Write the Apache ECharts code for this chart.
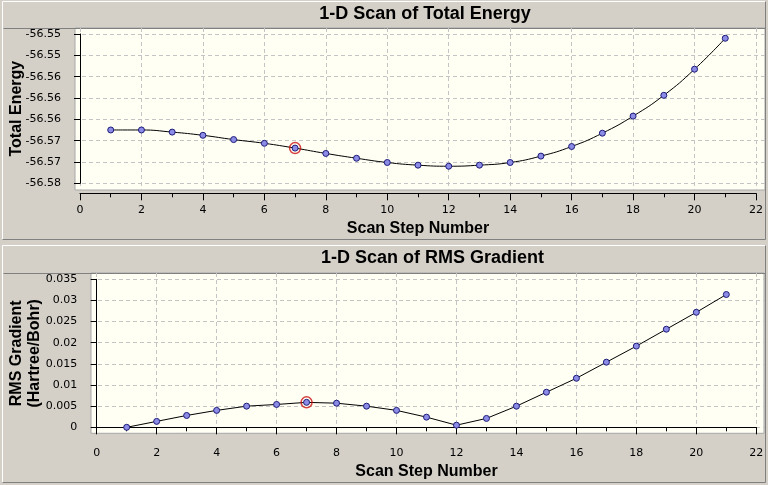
<!DOCTYPE html>
<html><head><meta charset="utf-8">
<script src="https://cdn.jsdelivr.net/npm/echarts@6/dist/echarts.min.js"></script>
<style>html,body{margin:0;padding:0;background:#d4d0c8}#c{width:768px;height:485px}</style>
</head><body><div id="c"></div><script>
// ---- data ----
const steps = [1,2,3,4,5,6,7,8,9,10,11,12,13,14,15,16,17,18,19,20,21];
const energy = [-56.5660,-56.5660,-56.5664,-56.5670,-56.5678,-56.5685,-56.5694,-56.5704,-56.5713,-56.5721,-56.5726,-56.5728,-56.5726,-56.5721,-56.5709,-56.5691,-56.5666,-56.5634,-56.5595,-56.5546,-56.5488];
const rmsGradient = [0.0000,0.0014,0.0028,0.0040,0.0050,0.0054,0.0059,0.0057,0.0050,0.0040,0.0024,0.0005,0.0021,0.0050,0.0083,0.0116,0.0154,0.0192,0.0232,0.0272,0.0314];
const xTicks = [0,2,4,6,8,10,12,14,16,18,20,22];
const energyTicks = [-56.576,-56.572,-56.568,-56.564,-56.560,-56.556,-56.552,-56.548];
const gradientTicks = [0,0.005,0.01,0.015,0.02,0.025,0.03,0.035];
const highlightStep = 7;
const titles = ['1-D Scan of Total Energy','1-D Scan of RMS Gradient'];
const xName = 'Scan Step Number';
const yNames = ['Total Energy','RMS Gradient\n(Hartree/Bohr)'];

// ---- layout ----
const panels = [
  {box:{l:75,t:28,r:765,b:190}, data:{l:80,t:34,r:756,b:183.3}, yOff:8, xOff:10, yGap:47, xGap:27, lh:16, titleTop:0,
   ticks:energyTicks, interval:0.004, values:energy, smooth:true, fmt:v=>v.toFixed(2), yMargin:11},
  {box:{l:91,t:273,r:764,b:433.3}, data:{l:96.7,t:279.3,r:756.3,b:427.3}, yOff:9, xOff:9.4, yGap:44, xGap:27, lh:18, titleTop:244,
   ticks:gradientTicks, interval:0.005, values:rmsGradient, smooth:false, fmt:v=>String(+v.toFixed(3)), yMargin:10.5}
];
const font = 'DejaVu Sans';
const boldFont = 'Liberation Sans';

const grid = [], xAxis = [], yAxis = [], series = [], title = [];
panels.forEach((p, i) => {
  const xMin = xTicks[0], xMax = xTicks[xTicks.length-1];
  const yMin = p.ticks[0], yMax = p.ticks[p.ticks.length-1];
  const sx = (p.data.r - p.data.l) / (xMax - xMin);
  const sy = (p.data.b - p.data.t) / (yMax - yMin);
  const gBox = grid.length;
  grid.push({left:p.box.l, top:p.box.t, width:p.box.r-p.box.l, height:p.box.b-p.box.t,
    show:true, backgroundColor:'#fffff4', borderColor:'#a8a8a8', borderWidth:1, containLabel:false, outerBoundsMode:'none'});
  const gData = grid.length;
  grid.push({left:p.data.l, top:p.data.t, width:p.data.r-p.data.l, height:p.data.b-p.data.t, containLabel:false, outerBoundsMode:'none'});
  const split = {show:true, lineStyle:{color:'#c4c4c4', width:1, type:[4,3]}};
  xAxis.push({type:'value', gridIndex:gBox, min:xMin-(p.data.l-p.box.l)/sx, max:xMax+(p.box.r-p.data.r)/sx,
    axisLine:{show:false}, axisTick:{show:false, customValues:xTicks}, axisLabel:{show:false, customValues:xTicks}, splitLine:split});
  yAxis.push({type:'value', gridIndex:gBox, min:yMin-(p.box.b-p.data.b)/sy, max:yMax+(p.data.t-p.box.t)/sy,
    axisLine:{show:false}, axisTick:{show:false, customValues:p.ticks}, axisLabel:{show:false, customValues:p.ticks}, splitLine:split});
  const xi = xAxis.length, yi = yAxis.length;
  xAxis.push({type:'value', gridIndex:gData, min:xMin, max:xMax, interval:2, offset:p.xOff,
    axisLine:{show:true, lineStyle:{color:'#000', width:1}},
    axisTick:{show:true, inside:false, length:7, lineStyle:{color:'#000'}},
    minorTick:{show:true, splitNumber:2, length:4, lineStyle:{color:'#000'}},
    axisLabel:{show:true, margin:11, color:'#000', fontFamily:font, fontSize:11},
    splitLine:{show:false},
    name:xName, nameLocation:'middle', nameGap:p.xGap, nameMoveOverlap:false,
    nameTextStyle:{fontFamily:boldFont, fontWeight:'bold', fontSize:16, color:'#000'}});
  yAxis.push({type:'value', gridIndex:gData, min:yMin, max:yMax, interval:p.interval, offset:p.yOff,
    axisLine:{show:true, lineStyle:{color:'#000', width:1}},
    axisTick:{show:true, inside:false, length:6, lineStyle:{color:'#000'}},
    axisLabel:{show:true, margin:p.yMargin, color:'#000', fontFamily:font, fontSize:11, formatter:p.fmt},
    splitLine:{show:false},
    name:yNames[i], nameLocation:'middle', nameGap:p.yGap, nameRotate:90, nameMoveOverlap:false,
    nameTextStyle:{fontFamily:boldFont, fontWeight:'bold', fontSize:16, lineHeight:p.lh, color:'#000', align:'center'}});
  series.push({type:'line', xAxisIndex:xi, yAxisIndex:yi, smooth:p.smooth,
    data:steps.map((s,k)=>[s,p.values[k]]),
    lineStyle:{color:'#000', width:1}, symbol:'circle', symbolSize:6, showAllSymbol:true,
    itemStyle:{color:'#8c8ce6', borderColor:'#1c1c78', borderWidth:1}, z:3, animation:false});
  const hk = steps.indexOf(highlightStep);
  series.push({type:'scatter', xAxisIndex:xi, yAxisIndex:yi, data:[[steps[hk], p.values[hk]]],
    symbol:'circle', symbolSize:11, itemStyle:{color:'rgba(0,0,0,0)', borderColor:'#cc1111', borderWidth:1.5}, z:4, animation:false});
  title.push({text:titles[i], left:(p.box.l+p.box.r)/2, textAlign:'center', top:p.titleTop,
    textStyle:{fontFamily:boldFont, fontWeight:'bold', fontSize:18, color:'#000'}});
});

// panel frames (decoration)
const dark = '#808080', light = '#ffffff';
function frame(x1,y1,x2,y2,sepY){
  return [
    {type:'line', shape:{x1:x1,y1:y1,x2:x2,y2:y1}, style:{stroke:light,lineWidth:1}},
    {type:'line', shape:{x1:x1,y1:y1,x2:x1,y2:y2}, style:{stroke:light,lineWidth:1}},
    {type:'line', shape:{x1:x1,y1:y2,x2:x2,y2:y2}, style:{stroke:dark,lineWidth:1}},
    {type:'line', shape:{x1:x2,y1:y1,x2:x2,y2:y2}, style:{stroke:dark,lineWidth:1}},
    {type:'line', shape:{x1:x1+1,y1:sepY,x2:x2,y2:sepY}, style:{stroke:dark,lineWidth:1}}
  ];
}
const graphic = [].concat(frame(2.5,1.5,765.5,239.5,28.5), frame(2.5,245.5,765.5,482.5,273.5));

const chart = echarts.init(document.getElementById('c'), null, {renderer:'canvas'});
chart.setOption({backgroundColor:'#d4d0c8', animation:false, title, grid, xAxis, yAxis, series, graphic});
</script></body></html>
